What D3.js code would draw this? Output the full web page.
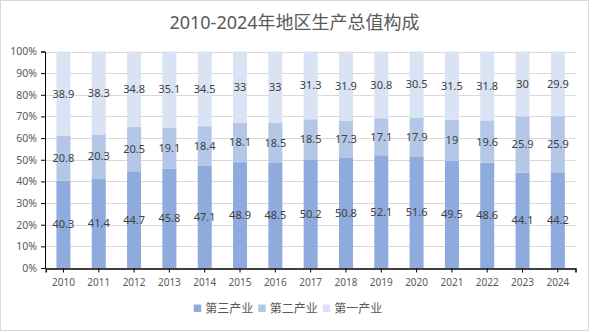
<!DOCTYPE html>
<html>
<head>
<meta charset="utf-8">
<script src="https://cdn.jsdelivr.net/npm/d3@7"></script>
<style>
  html, body { margin: 0; padding: 0; background: #fff; }
  svg { display: block; font-family: "Noto Sans", "Noto Sans CJK SC", sans-serif; }
</style>
</head>
<body>
<svg id="chart" width="592" height="332"></svg>
<script>
// Share of regional GDP by sector, 2010-2024 (%)
const years = ["2010","2011","2012","2013","2014","2015","2016","2017","2018","2019","2020","2021","2022","2023","2024"];
const tertiary  = [40.3, 41.4, 44.7, 45.8, 47.1, 48.9, 48.5, 50.2, 50.8, 52.1, 51.6, 49.5, 48.6, 44.1, 44.2];
const secondary = [20.8, 20.3, 20.5, 19.1, 18.4, 18.1, 18.5, 18.5, 17.3, 17.1, 17.9, 19, 19.6, 25.9, 25.9];
const primary   = [38.9, 38.3, 34.8, 35.1, 34.5, 33, 33, 31.3, 31.9, 30.8, 30.5, 31.5, 31.8, 30, 29.9];
const seriesNames = ["第三产业", "第二产业", "第一产业"];
const seriesColors = ["#8FAADC", "#B4C7E7", "#DAE3F3"];
const yTicks = [0, 10, 20, 30, 40, 50, 60, 70, 80, 90, 100];
const title = "2010-2024年地区生产总值构成";

const rows = years.map((y, i) => ({
  year: y,
  "第三产业": tertiary[i],
  "第二产业": secondary[i],
  "第一产业": primary[i]
}));

const svg = d3.select("#chart");
const textColor = "#595959";

// outer frame
svg.append("rect")
  .attr("x", 0.5).attr("y", 0.5)
  .attr("width", 588).attr("height", 330)
  .attr("fill", "#fff").attr("stroke", "#D9D9D9");

// title
svg.append("text")
  .attr("x", 294.5).attr("y", 28.5)
  .attr("text-anchor", "middle")
  .attr("fill", textColor)
  .style("font-size", "18px")
  .text(title);

const plotLeft = 45, plotRight = 575.5, plotTop = 51.5, plotBottom = 268;

const x = d3.scaleBand().domain(years).range([plotLeft + 0.8, plotRight]);
const y = d3.scaleLinear().domain([0, 100]).range([plotBottom, plotTop]);

// gridlines
svg.append("g")
  .selectAll("line")
  .data(yTicks.filter(d => d > 0))
  .join("line")
  .attr("x1", plotLeft).attr("x2", plotRight)
  .attr("y1", d => Math.round(y(d)) + 0.5)
  .attr("y2", d => Math.round(y(d)) + 0.5)
  .attr("stroke", "#D9D9D9");

// stacked bars
const stack = d3.stack().keys(seriesNames);
const layers = stack(rows);
const barW = 14;

const layerG = svg.append("g")
  .selectAll("g")
  .data(layers)
  .join("g")
  .attr("fill", (d, i) => seriesColors[i]);

layerG.selectAll("rect")
  .data(d => d)
  .join("rect")
  .attr("x", d => x(d.data.year) + x.bandwidth() / 2 - barW / 2)
  .attr("width", barW)
  .attr("y", d => y(d[1]))
  .attr("height", d => y(d[0]) - y(d[1]));

// value labels centred in each segment
const labelG = svg.append("g")
  .attr("fill", "#404040")
  .style("font-size", "11px")
  .attr("text-anchor", "middle");

layers.forEach(layer => {
  labelG.selectAll(null)
    .data(layer)
    .join("text")
    .attr("x", d => x(d.data.year) + x.bandwidth() / 2)
    .attr("y", d => y((d[0] + d[1]) / 2))
    .attr("dy", "0.36em")
    .text(d => d.data[layer.key]);
});

// y axis
const yAxis = svg.append("g")
  .attr("transform", `translate(${plotLeft},0)`)
  .call(d3.axisLeft(y)
    .tickValues(yTicks)
    .tickFormat(d => d + "%")
    .tickSize(4)
    .tickPadding(4));
yAxis.select(".domain").attr("stroke", "#000");
yAxis.selectAll(".tick line").attr("stroke", "#000");
yAxis.selectAll("text")
  .attr("fill", textColor)
  .style("font-size", "10.5px")
  .style("font-family", "\"Noto Sans\", sans-serif");

// x axis
const xAxis = svg.append("g")
  .attr("transform", `translate(0,${plotBottom + 0.5})`)
  .call(d3.axisBottom(x)
    .tickSizeInner(4)
    .tickSizeOuter(4)
    .tickPadding(6));
xAxis.select(".domain").attr("stroke", "#000").attr("stroke-width", 1.5);
xAxis.selectAll(".tick line").attr("stroke", "#000");
xAxis.selectAll("text")
  .attr("fill", textColor)
  .style("font-size", "10px")
  .style("font-family", "\"Noto Sans\", sans-serif");

// legend
const legend = svg.append("g")
  .style("font-size", "12px")
  .style("font-family", "\"Noto Sans CJK SC\", sans-serif");
const sw = 7.5, gapIn = 4, gapOut = 5;
const items = legend.selectAll("g")
  .data(seriesNames)
  .join("g");
items.append("rect")
  .attr("width", sw).attr("height", sw)
  .attr("y", 304.5)
  .attr("fill", (d, i) => seriesColors[i]);
items.append("text")
  .attr("x", sw + gapIn)
  .attr("y", 308.5)
  .attr("dy", "0.35em")
  .attr("fill", textColor)
  .text(d => d);
const widths = [];
items.each(function () {
  widths.push(this.querySelector("text").getComputedTextLength() + sw + gapIn);
});
const total = d3.sum(widths) + gapOut * (widths.length - 1);
let cx = 288 - total / 2;
items.attr("transform", (d, i) => {
  const t = `translate(${cx},0)`;
  cx += widths[i] + gapOut;
  return t;
});
</script>
</body>
</html>
